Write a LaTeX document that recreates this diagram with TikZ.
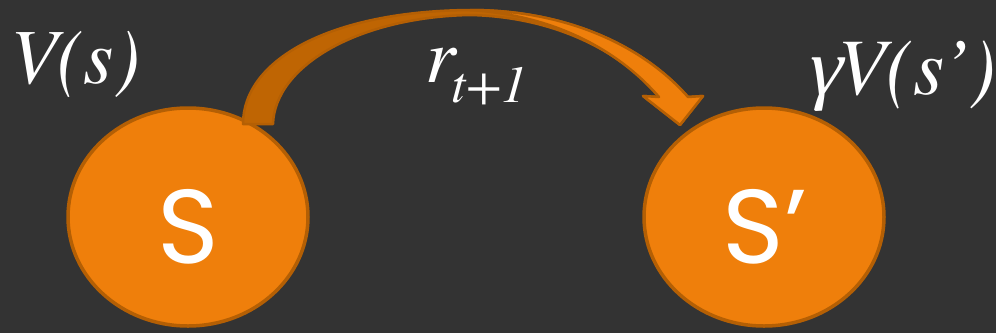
\documentclass[tikz,border=0pt]{standalone}
\usepackage{fontspec}
\IfFontExistsTF{texgyretermes-italic.otf}
  {\newfontfamily\labelfont{texgyretermes-italic.otf}}
  {\newfontfamily\labelfont{Liberation Serif}[FakeSlant=0.2]}
\newfontfamily\gammafont{Liberation Serif}[FakeSlant=0.22]
\newfontfamily\statefont{Poppins}
\usetikzlibrary{shapes.geometric}
\definecolor{bg}{HTML}{333333}
\definecolor{orangefill}{HTML}{EF7F0B}
\definecolor{orangeedge}{HTML}{B45F04}
\definecolor{orangeback}{HTML}{BF6503}
\begin{document}
\begin{tikzpicture}[x=1pt,y=-1pt,
  state/.style={ellipse, draw=orangeedge, line width=3.5pt, fill=orangefill,
    minimum width=240pt, minimum height=218pt, inner sep=0pt},
  statetext/.style={text=white, inner sep=0pt, font=\statefont\fontsize{105}{105}\selectfont},
  lbl/.style={text=white, inner sep=0pt, font=\labelfont\fontsize{78}{78}\selectfont},
  arrowback/.style={fill=orangeback, draw=orangeedge, line width=2.5pt, line join=round},
  arrowfront/.style={fill=orangefill, draw=orangeedge, line width=2.5pt, line join=round}]
\fill[bg] (0,0) rectangle (996,333);
\useasboundingbox (0,0) rectangle (996,333);

\node[state] (s) at (188,217) {};
\node[state] (sp) at (764,217) {};
\node[statetext, anchor=base] (stxt) at (188,263) {S};
\node[statetext, anchor=base] (sptxt) at (765,263) {S’};

% curved arrow from s to s'
\coordinate (b1) at (243,124);
\coordinate (b2) at (273,124);
\coordinate (top) at (470,10);
\coordinate (topi) at (470,15);
\coordinate (hr) at (688,97);
\coordinate (hl) at (659,97);
\coordinate (tip) at (680,125);
\path[arrowback] (b1) .. controls (243,60) and (330,11) .. (top)
  .. controls (570,10) and (645,48) .. (hr) -- (703,96) -- (tip) -- (643,96) -- (hl)
  .. controls (630,60) and (565,17) .. (topi)
  .. controls (360,17) and (275,65) .. (b2) -- cycle;
\path[arrowfront] (top) .. controls (570,10) and (645,48) .. (hr) -- (703,96) -- (tip) -- (643,96) -- (hl)
  .. controls (625,58) and (565,16) .. (top) -- cycle;

\node[lbl, anchor=base west] (vs) at (10,83) {V(s)};
\node[lbl, anchor=base west] (r) at (425,82) {r\kern-4pt\raisebox{-20pt}{\fontsize{52}{52}\selectfont t+1}};
\node[lbl, anchor=base east, font=\labelfont\fontsize{80}{80}\selectfont] (gvs) at (996,94) {{\gammafont γ}\kern-2ptV(s’)};
\end{tikzpicture}
\end{document}
